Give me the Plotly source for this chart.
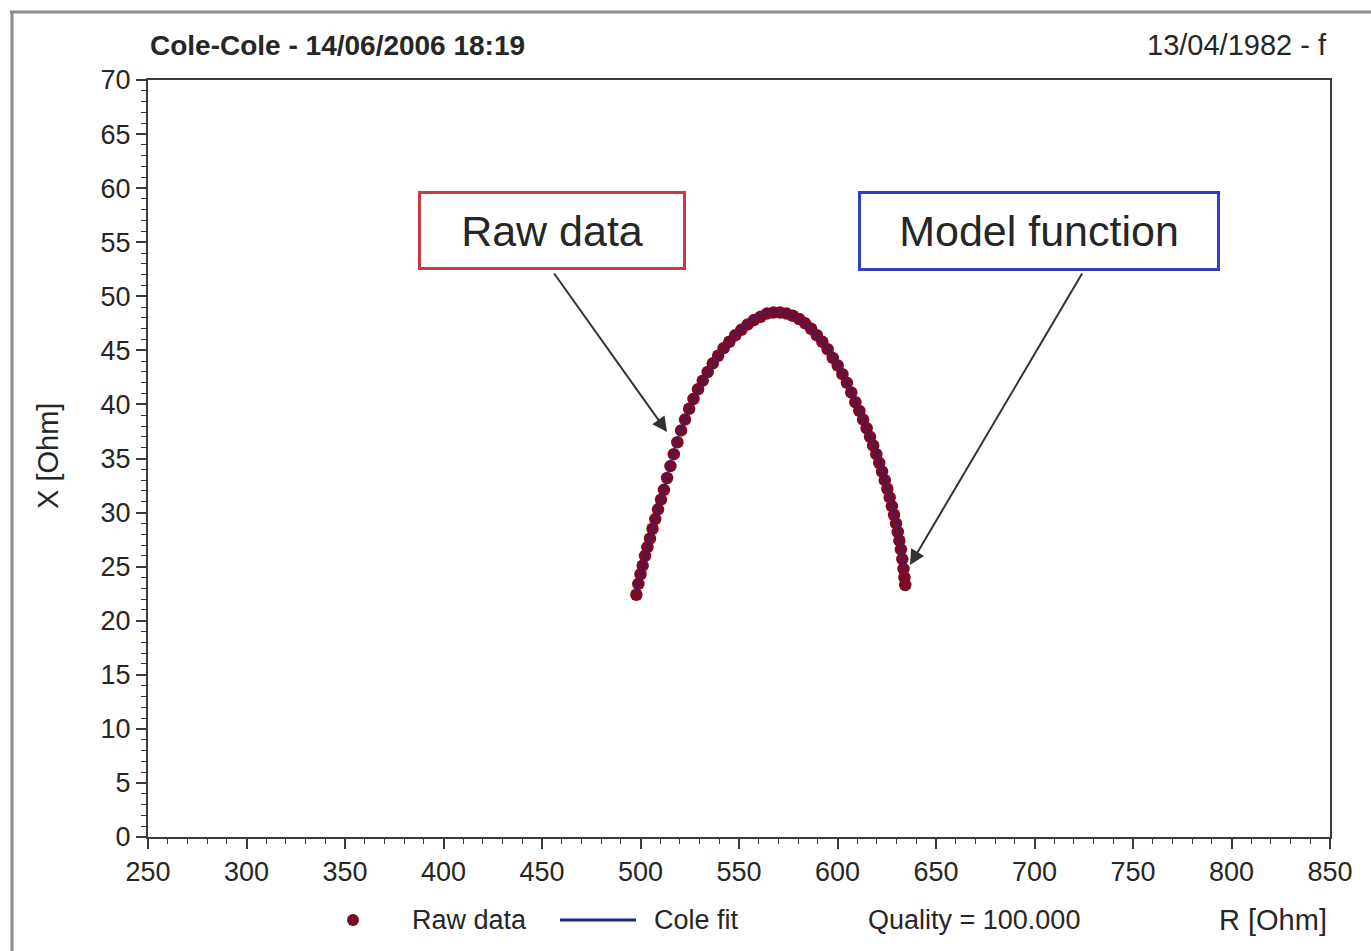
import plotly.graph_objects as go

# Measured impedance (raw data), R and X in Ohm
raw_r = [497.9, 498.9, 500.0, 501.1, 502.3, 503.5, 504.8, 506.1, 507.5, 508.9,
         510.4, 511.9, 513.5, 515.2, 516.9, 518.7, 520.6, 522.6, 524.7, 526.9,
         529.2, 531.6, 534.1, 536.7, 539.4, 542.2, 545.1, 548.1, 551.2, 554.4,
         557.6, 560.9, 564.2, 567.5, 570.8, 574.1, 577.3, 580.5, 583.6, 586.6,
         589.5, 592.3, 595.0, 597.6, 600.1, 602.5, 604.8, 607.0, 609.1, 611.1,
         613.0, 614.8, 616.5, 618.1, 619.7, 621.2, 622.6, 624.0, 625.3, 626.5,
         627.6, 628.7, 629.7, 630.6, 631.4, 632.2, 632.9, 633.5, 634.0, 634.4]
raw_x = [22.4, 23.4, 24.3, 25.1, 26.0, 26.8, 27.6, 28.5, 29.4, 30.3,
         31.2, 32.1, 33.2, 34.3, 35.4, 36.5, 37.6, 38.6, 39.6, 40.5,
         41.4, 42.2, 43.0, 43.8, 44.5, 45.2, 45.8, 46.4, 46.9, 47.4,
         47.8, 48.1, 48.4, 48.5, 48.5, 48.4, 48.2, 47.9, 47.5, 47.0,
         46.4, 45.8, 45.1, 44.3, 43.6, 42.8, 42.0, 41.1, 40.2, 39.4,
         38.6, 37.8, 37.0, 36.2, 35.4, 34.6, 33.8, 33.0, 32.2, 31.4,
         30.6, 29.8, 29.0, 28.2, 27.4, 26.6, 25.7, 24.8, 24.0, 23.3]

# Cole model fit
fit_r = [498.1, 504.8, 511.6, 518.4, 526.8, 535.3, 543.8, 552.2, 560.7, 569.1,
         577.6, 586.0, 594.5, 601.3, 608.0, 614.8, 621.6, 626.6, 630.9, 633.4, 634.0]
fit_x = [22.7, 27.5, 32.1, 36.7, 40.4, 43.2, 45.3, 47.2, 48.3, 48.6,
         48.1, 47.0, 45.3, 43.2, 40.7, 37.9, 34.6, 31.5, 28.4, 25.9, 24.6]

x_ticks = [250, 300, 350, 400, 450, 500, 550, 600, 650, 700, 750, 800, 850]
y_ticks = [0, 5, 10, 15, 20, 25, 30, 35, 40, 45, 50, 55, 60, 65, 70]

chart_title = "Cole-Cole - 14/06/2006 18:19"
chart_subtitle = "13/04/1982 - f"
quality_text = "Quality = 100.000"

W, H = 1371, 951
ML, MR, MT, MB = 148, 41, 80, 114
PW, PH = W - ML - MR, H - MT - MB


def px(xp):
    return (xp - ML) / PW


def py(yp):
    return (H - yp - MB) / PH


FONT = "Liberation Sans, Arial, sans-serif"
RED = "#7a0a26"
NAVY = "#23277f"
TXT = "#262626"

fig = go.Figure()
fig.add_trace(go.Scatter(x=raw_r, y=raw_x, mode="markers", name="Raw data",
                         marker=dict(size=12.5, color=RED), showlegend=False))
fig.add_trace(go.Scatter(x=fit_r, y=fit_x, mode="lines", name="Cole fit",
                         line=dict(color=NAVY, width=2.2, shape="spline"),
                         opacity=0.55, showlegend=False))

axis_common = dict(showline=True, linecolor="#3a3a3a", linewidth=2, mirror=True,
                   showgrid=False, zeroline=False, ticks="outside", ticklen=10,
                   tickwidth=1.5, tickcolor="#3a3a3a",
                   tickfont=dict(family=FONT, size=27, color=TXT))

fig.update_xaxes(range=[250, 850], tickvals=x_ticks, **axis_common,
                 minor=dict(dtick=10, ticks="outside", ticklen=5, tickwidth=1.2,
                            tickcolor="#3a3a3a"))
fig.update_yaxes(range=[0, 70], tickvals=y_ticks, **axis_common,
                 minor=dict(dtick=1, ticks="outside", ticklen=5, tickwidth=1.2,
                            tickcolor="#3a3a3a"))


def label(text, xp, yp, size, anchor="left", **kw):
    return dict(text=text, x=px(xp), y=py(yp), xref="paper", yref="paper",
                xanchor=anchor, yanchor="middle", showarrow=False,
                font=dict(family=FONT, size=size, color=TXT), **kw)


annotations = [
    label(f"<b>{chart_title}</b>", 148, 45, 28),
    label(chart_subtitle, 1329, 45, 29, anchor="right"),
    label("X [Ohm]", 48, 456, 29, anchor="center", textangle=-90),
    # callout boxes
    label("Raw data", 552, 230.5, 43, anchor="center", width=262, height=73,
          borderpad=0, borderwidth=3, bordercolor="#c83a40", bgcolor="white"),
    label("Model function", 1039, 231, 43, anchor="center", width=356, height=74,
          borderpad=0, borderwidth=3, bordercolor="#2f3fbf", bgcolor="white"),
    # arrows
    dict(text="", x=513.5, y=37.45, xref="x", yref="y", ax=-114, ay=-160,
         showarrow=True, arrowhead=2, arrowsize=1.5, arrowwidth=2,
         arrowcolor="#333333"),
    dict(text="", x=636.8, y=25.15, xref="x", yref="y", ax=173, ay=-293,
         showarrow=True, arrowhead=2, arrowsize=1.5, arrowwidth=2,
         arrowcolor="#333333"),
    # legend row
    label("Raw data", 410, 920, 27),
    label("Cole fit", 652, 920, 27),
    label(quality_text, 866, 920, 27),
    label("R [Ohm]", 1329, 920, 29, anchor="right"),
]

shapes = [
    # legend symbols
    dict(type="circle", xref="paper", yref="paper", x0=px(347), x1=px(359),
         y0=py(926), y1=py(914), fillcolor=RED, line=dict(width=0)),
    dict(type="line", xref="paper", yref="paper", x0=px(560), x1=px(636),
         y0=py(920), y1=py(920), line=dict(color=NAVY, width=3)),
    # outer window frame
    dict(type="line", xref="paper", yref="paper", x0=px(10), x1=px(1371),
         y0=py(12), y1=py(12), line=dict(color="#8c8c8c", width=3)),
    dict(type="line", xref="paper", yref="paper", x0=px(12), x1=px(12),
         y0=py(12), y1=py(951), line=dict(color="#8c8c8c", width=3)),
]

fig.update_layout(width=W, height=H, autosize=False,
                  margin=dict(l=ML, r=MR, t=MT, b=MB, pad=0),
                  paper_bgcolor="white", plot_bgcolor="white",
                  annotations=annotations, shapes=shapes, showlegend=False)

fig.write_html("out.html")
